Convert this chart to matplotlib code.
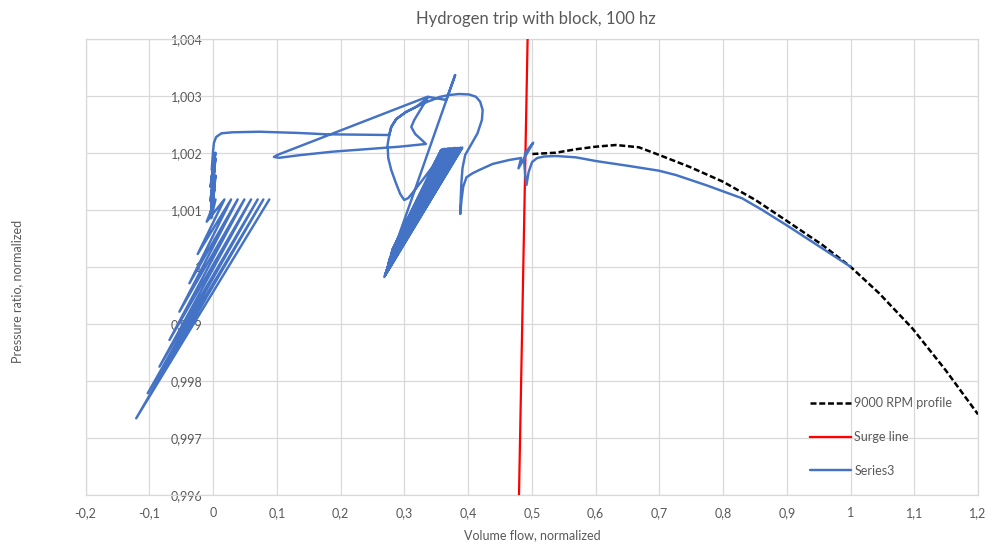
import matplotlib
matplotlib.use("Agg")
import matplotlib.pyplot as plt
from matplotlib.ticker import FuncFormatter

plt.rcParams['font.family'] = ['Lato', 'DejaVu Sans']

# Axis ticks
x_ticks = [-0.2, -0.1, 0.0, 0.1, 0.2, 0.3, 0.4, 0.5, 0.6, 0.7, 0.8, 0.9, 1.0, 1.1, 1.2]
y_ticks = [0.996, 0.997, 0.998, 0.999, 1.000, 1.001, 1.002, 1.003, 1.004]

# 9000 RPM speed line
profile_flow = [0.501, 0.538, 0.569, 0.600, 0.632, 0.668, 0.700, 0.747, 0.800,
                0.851, 0.898, 0.956, 1.000, 1.045, 1.097, 1.149, 1.200]
profile_pr = [1.001977, 1.002000, 1.002060, 1.002105, 1.002135, 1.002095, 1.001960,
              1.001754, 1.001491, 1.001170, 1.000819, 1.000381, 1.000000, 0.999533,
              0.998919, 0.998188, 0.997410]

# Surge line
surge_flow = [0.480, 0.4935]
surge_pr = [0.996, 1.004]

# Series3: run-down from the operating point to the surge line
rundown_flow = [1.000, 0.9556, 0.9034, 0.8616, 0.830, 0.7729, 0.7259, 0.6997, 0.6527,
                0.6005, 0.5691, 0.5378, 0.5194, 0.5085, 0.5006, 0.4951, 0.4917, 0.4897,
                0.4881, 0.4897, 0.5022, 0.4912, 0.4792, 0.4834, 0.4646, 0.4384, 0.4176,
                0.4071, 0.3976, 0.3925, 0.3898, 0.3878]
rundown_pr = [1.000000, 1.000323, 1.000702, 1.000995, 1.001200, 1.001433, 1.001609,
              1.001684, 1.001767, 1.001854, 1.001919, 1.001942, 1.001933, 1.001907,
              1.001837, 1.001661, 1.001433, 1.001609, 1.001837, 1.001995, 1.002175,
              1.001960, 1.001726, 1.001907, 1.001872, 1.001802, 1.001696, 1.001639,
              1.001568, 1.001404, 1.001170, 1.000925]

# Series3: first loop and teardrop
loop_flow = [0.3886, 0.3897, 0.3914, 0.3956, 0.4045, 0.4149, 0.4218, 0.4230, 0.4191,
             0.4124, 0.4019, 0.3862, 0.3705, 0.3549, 0.3439, 0.3365, 0.3183, 0.3027,
             0.2875, 0.2796, 0.2765, 0.2738, 0.2749, 0.2796, 0.2875, 0.2937, 0.3000,
             0.3063, 0.3141, 0.3287, 0.3444, 0.3533]
loop_pr = [1.001205, 1.001486, 1.001732, 1.001960, 1.002135, 1.002340, 1.002574,
           1.002749, 1.002895, 1.002982, 1.003021, 1.003030, 1.003012, 1.002977,
           1.002925, 1.002895, 1.002802, 1.002714, 1.002591, 1.002451, 1.002311,
           1.002135, 1.001907, 1.001696, 1.001451, 1.001275, 1.001170, 1.001205,
           1.001311, 1.001521, 1.001754, 1.001942]

# Series3: fast surge cycles near 0.3 flow (alternating top / bottom)
cycle_flow = [0.3580, 0.2812, 0.3600, 0.2806, 0.3615, 0.2797, 0.3635, 0.2791,
              0.3655, 0.2783, 0.3680, 0.2774, 0.3700, 0.2768, 0.3715, 0.2759,
              0.3740, 0.2752, 0.3760, 0.2746, 0.3780, 0.2737, 0.3795, 0.2731,
              0.3820, 0.2722, 0.3840, 0.2716, 0.3860, 0.2707, 0.3880, 0.2698,
              0.3910, 0.2687]
cycle_pr = [1.002050, 1.000293, 1.002060, 1.000260, 1.002055, 1.000230, 1.002070,
            1.000210, 1.002060, 1.000170, 1.002075, 1.000140, 1.002065, 1.000120,
            1.002080, 1.000080, 1.002070, 1.000060, 1.002080, 1.000020, 1.002070,
            0.999990, 1.002085, 0.999970, 1.002075, 0.999930, 1.002085, 0.999910,
            1.002080, 0.999880, 1.002090, 0.999850, 1.002091, 0.999819]

# Series3: spike, triangle loop and return to zero flow
return_flow = [0.3799, 0.3658, 0.3365, 0.1009, 0.0955, 0.1041, 0.1354, 0.1876,
               0.2451, 0.2922, 0.3340, 0.3266, 0.3172, 0.3110, 0.3157, 0.3251, 0.3365,
               0.3183, 0.3027, 0.2875, 0.2796, 0.2765, 0.2713, 0.2295, 0.1773, 0.1354,
               0.0727, 0.0304, 0.0132, 0.0049, 0.0014, 0.0000]
return_pr = [1.003363, 1.002925, 1.002982, 1.001960, 1.001925, 1.001911,
             1.001956, 1.002018, 1.002065, 1.002105, 1.002153, 1.002232, 1.002328,
             1.002451, 1.002574, 1.002749, 1.002960, 1.002802, 1.002714, 1.002591,
             1.002451, 1.002311, 1.002311, 1.002316, 1.002323, 1.002346, 1.002368,
             1.002358, 1.002340, 1.002275, 1.002170, 1.002012]

# Series3: oscillation at zero flow and the growing sawtooth
zero_flow = [-0.002, 0.004, -0.003, 0.003, -0.004, 0.004, -0.002, 0.003, -0.004,
             0.002, -0.003, 0.004, -0.002, 0.003, -0.004, 0.002, -0.003, 0.004,
             -0.0099, 0.0179, -0.0240, 0.0284, -0.0370, 0.0387, -0.0527, 0.0492,
             -0.0683, 0.0597, -0.0840, 0.0701, -0.1024, 0.0790, -0.1205, 0.0884]
zero_pr = [1.00170, 1.00200, 1.00150, 1.00195, 1.00140, 1.00190, 1.00125, 1.00185,
           1.00115, 1.00170, 1.00105, 1.00160, 1.00098, 1.00150, 1.00090, 1.00135,
           1.00085, 1.00118,
           1.000790, 1.001180, 1.000223, 1.001180, 0.999709,
           1.001180, 0.999211, 1.001180, 0.998714, 1.001180, 0.998246, 1.001180,
           0.997779, 1.001180, 0.997340, 1.001180]

series3_flow = rundown_flow + loop_flow + cycle_flow + return_flow + zero_flow
series3_pr = rundown_pr + loop_pr + cycle_pr + return_pr + zero_pr

GRID = '#d9d9d9'
TEXT = '#595959'
W, H = 988, 545

fig = plt.figure(figsize=(W / 100, H / 100), dpi=100)
left, right, top, bottom = 85.5, 978.0, 38.7, 494.7
ax = fig.add_axes([left / W, 1 - bottom / H, (right - left) / W, (bottom - top) / H])

ax.plot(profile_flow, profile_pr, color='black', lw=1.8, dashes=(2.4, 1.1),
        label='9000 RPM profile', zorder=3)
ax.plot(surge_flow, surge_pr, color='#ff0000', lw=1.6, label='Surge line', zorder=3)
ax.plot(series3_flow, series3_pr, color='#4472c4', lw=1.75, label='Series3', zorder=4,
        solid_joinstyle='round', solid_capstyle='round')

ax.set_xlim(-0.2, 1.2)
ax.set_ylim(0.996, 1.004)
ax.set_xticks(x_ticks)
ax.set_yticks(y_ticks)


def comma_fmt(digits):
    def f(v, pos):
        s = f"{round(v, digits):.{digits}f}".rstrip('0').rstrip('.')
        if s in ('-0', ''):
            s = '0'
        return s.replace('.', ',')
    return FuncFormatter(f)


ax.xaxis.set_major_formatter(comma_fmt(1))
ax.yaxis.set_major_formatter(comma_fmt(3))

ax.grid(True, color=GRID, lw=0.9)
ax.set_axisbelow(True)
ax.spines['left'].set_position(('data', 0))
ax.spines['left'].set_visible(False)
for s in ('top', 'right', 'bottom'):
    ax.spines[s].set_color(GRID)
    ax.spines[s].set_linewidth(0.9)
ax.axvline(-0.2, color=GRID, lw=0.9, clip_on=False, zorder=0)
ax.tick_params(axis='both', length=0, labelsize=9, labelcolor=TEXT)
ax.tick_params(axis='x', pad=9)
ax.tick_params(axis='y', pad=7.5)

fig.text(536 / W, 1 - 19 / H, 'Hydrogen trip with block, 100 hz', ha='center',
         va='center', fontsize=12, color=TEXT)
fig.text(532 / W, 1 - 535 / H, 'Volume flow, normalized', ha='center', va='center',
         fontsize=9, color=TEXT)
fig.text(17 / W, 1 - 291 / H, 'Pressure ratio, normalized', ha='center', va='center',
         rotation=90, fontsize=9, color=TEXT)

ax.legend(loc='upper left', bbox_to_anchor=((810 - left) / (right - left),
                                            1 - (397 - top) / (bottom - top)),
          frameon=False, fontsize=9, labelcolor=TEXT, handlelength=3.3,
          handletextpad=0.25, labelspacing=1.75, borderpad=0, borderaxespad=0)

fig.savefig('out.png', dpi=100, facecolor='white')
